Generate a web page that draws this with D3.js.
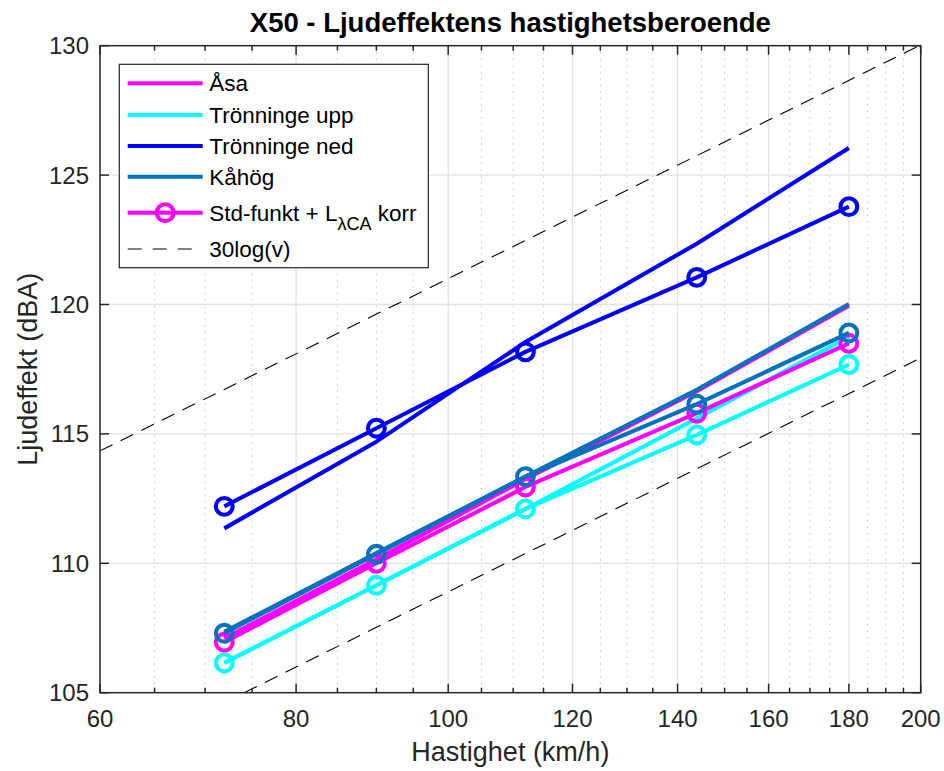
<!DOCTYPE html>
<html>
<head>
<meta charset="utf-8">
<script src="https://cdn.jsdelivr.net/npm/d3@7"></script>
<style>
  html, body { margin: 0; padding: 0; background: #fff; }
  svg { display: block; font-family: "Liberation Sans", Arial, Helvetica, sans-serif; }
</style>
</head>
<body>
<svg id="chart" width="944" height="771"></svg>
<script>
// Speeds (km/h) at which each site was evaluated
const speeds = [72, 90, 112, 144, 180];

// Measured sound power level per site (dBA)
const asaMeas   = [107.1, 110.15, 113.25, 116.65, 119.95];
const uppMeas   = [106.15, 109.15, 112.1, 115.6, 118.75];
const nedMeas   = [111.35, 114.7, 118.55, 122.35, 126.05];
const kahogMeas = [107.35, 110.4, 113.35, 116.7, 120.02];

// Standard function + L_λCA correction per site (dBA)
const asaStd   = [106.95, 110.0, 112.95, 115.8, 118.5];
const uppStd   = [106.15, 109.15, 112.1, 114.96, 117.68];
const nedStd   = [112.2, 115.22, 118.17, 121.05, 123.78];
const kahogStd = [107.3, 110.35, 113.35, 116.15, 118.9];

// 30log(v) reference lines: constant offsets (dB)
const refOffsets = [61, 48.9];

// Axis ticks
const xTicks = [60, 80, 100, 120, 140, 160, 180, 200];
const xMinorTicks = d3.range(65, 200, 5).filter(v => !xTicks.includes(v));
const yTicks = [105, 110, 115, 120, 125, 130];

const siteColors = { asa: "#ff00ff", upp: "#00ffff", ned: "#0000ff", kahog: "#0072bd" };

const svg = d3.select("#chart");
const box = { left: 100, right: 920.7, top: 45.7, bottom: 692.7 };

const x = d3.scaleLog().domain([60, 200]).range([box.left, box.right]);
const y = d3.scaleLinear().domain([105, 130]).range([box.bottom, box.top]);

const axisColor = "#262626";
const lw = 4.1;      // data line width
const mr = 8.4;      // marker radius

// Plot background
svg.append("rect").attr("x", box.left).attr("y", box.top)
  .attr("width", box.right - box.left).attr("height", box.bottom - box.top).attr("fill", "#fff");

// Minor x grid (dotted)
svg.append("g").selectAll("line").data(xMinorTicks).join("line")
  .attr("x1", d => x(d)).attr("x2", d => x(d))
  .attr("y1", box.top).attr("y2", box.bottom)
  .attr("stroke", "#c4c4c4").attr("stroke-width", 1)
  .attr("stroke-dasharray", "1.5,5");

// Major grid
svg.append("g").selectAll("line").data(xTicks.slice(1, -1)).join("line")
  .attr("x1", d => x(d)).attr("x2", d => x(d))
  .attr("y1", box.top).attr("y2", box.bottom)
  .attr("stroke", "#e2e2e2").attr("stroke-width", 1.3);
svg.append("g").selectAll("line").data(yTicks.slice(1, -1)).join("line")
  .attr("x1", box.left).attr("x2", box.right)
  .attr("y1", d => y(d)).attr("y2", d => y(d))
  .attr("stroke", "#e2e2e2").attr("stroke-width", 1.3);

const clipId = "plotClip";
svg.append("clipPath").attr("id", clipId).append("rect")
  .attr("x", box.left).attr("y", box.top)
  .attr("width", box.right - box.left).attr("height", box.bottom - box.top);
const plot = svg.append("g").attr("clip-path", `url(#${clipId})`);

const line = d3.line().x(d => x(d[0])).y(d => y(d[1]));
const pts = vals => speeds.map((s, i) => [s, vals[i]]);

// Measured curves
[[asaMeas, siteColors.asa], [uppMeas, siteColors.upp], [nedMeas, siteColors.ned], [kahogMeas, siteColors.kahog]]
  .forEach(([vals, c]) => {
    plot.append("path").attr("d", line(pts(vals)))
      .attr("fill", "none").attr("stroke", c).attr("stroke-width", lw)
      .attr("stroke-linejoin", "round");
  });

// Standard-function curves with circle markers
[[asaStd, siteColors.asa], [uppStd, siteColors.upp], [nedStd, siteColors.ned], [kahogStd, siteColors.kahog]]
  .forEach(([vals, c]) => {
    const g = svg.append("g");
    g.append("path").attr("d", line(pts(vals)))
      .attr("fill", "none").attr("stroke", c).attr("stroke-width", lw)
      .attr("stroke-linejoin", "round");
    g.selectAll("circle").data(pts(vals)).join("circle")
      .attr("cx", d => x(d[0])).attr("cy", d => y(d[1])).attr("r", mr)
      .attr("fill", "none").attr("stroke", c).attr("stroke-width", lw);
  });

// 30log(v) reference lines
refOffsets.forEach(c => {
  const ref = x.domain().map(v => [v, 30 * Math.log10(v) + c]);
  plot.append("path").attr("d", line(ref))
    .attr("fill", "none").attr("stroke", "#000").attr("stroke-width", 1.1)
    .attr("stroke-dasharray", "14,9");
});

// Axes box
svg.append("rect").attr("x", box.left).attr("y", box.top)
  .attr("width", box.right - box.left).attr("height", box.bottom - box.top)
  .attr("fill", "none").attr("stroke", axisColor).attr("stroke-width", 1.5);

// Tick marks (inward, mirrored on top/right)
const tickG = svg.append("g").attr("stroke", axisColor).attr("stroke-width", 1.5);
xTicks.forEach(v => {
  tickG.append("line").attr("x1", x(v)).attr("x2", x(v)).attr("y1", box.bottom).attr("y2", box.bottom - 9);
  tickG.append("line").attr("x1", x(v)).attr("x2", x(v)).attr("y1", box.top).attr("y2", box.top + 9);
});
xMinorTicks.forEach(v => {
  tickG.append("line").attr("x1", x(v)).attr("x2", x(v)).attr("y1", box.bottom).attr("y2", box.bottom - 5);
  tickG.append("line").attr("x1", x(v)).attr("x2", x(v)).attr("y1", box.top).attr("y2", box.top + 5);
});
yTicks.forEach(v => {
  tickG.append("line").attr("x1", box.left).attr("x2", box.left + 9).attr("y1", y(v)).attr("y2", y(v));
  tickG.append("line").attr("x1", box.right).attr("x2", box.right - 9).attr("y1", y(v)).attr("y2", y(v));
});

// Tick labels
svg.append("g").selectAll("text").data(xTicks).join("text")
  .attr("x", d => x(d)).attr("y", box.bottom + 34)
  .attr("text-anchor", "middle").attr("font-size", 24).attr("fill", axisColor)
  .text(d => d);
svg.append("g").selectAll("text").data(yTicks).join("text")
  .attr("x", box.left - 11).attr("y", d => y(d) + 8.5)
  .attr("text-anchor", "end").attr("font-size", 24).attr("fill", axisColor)
  .text(d => d);

// Axis labels and title
svg.append("text").attr("x", (box.left + box.right) / 2).attr("y", 761)
  .attr("text-anchor", "middle").attr("font-size", 27).attr("fill", axisColor)
  .text("Hastighet (km/h)");
svg.append("text")
  .attr("transform", `translate(37,${(box.top + box.bottom) / 2}) rotate(-90)`)
  .attr("text-anchor", "middle").attr("font-size", 27).attr("fill", axisColor)
  .text("Ljudeffekt (dBA)");
svg.append("text").attr("x", (box.left + box.right) / 2).attr("y", 32)
  .attr("text-anchor", "middle").attr("font-size", 27.5).attr("font-weight", "bold")
  .attr("fill", "#000")
  .text("X50 - Ljudeffektens hastighetsberoende");

// Legend
const legendItems = [
  { label: "Åsa", color: siteColors.asa, type: "line" },
  { label: "Trönninge upp", color: siteColors.upp, type: "line" },
  { label: "Trönninge ned", color: siteColors.ned, type: "line" },
  { label: "Kåhög", color: siteColors.kahog, type: "line" },
  { label: "Std-funkt + L", sub: "λCA", after: " korr", color: siteColors.asa, type: "marker" },
  { label: "30log(v)", color: "#000", type: "dash" }
];
const legendRows = [83.3, 115, 146, 176.7, 212.7, 249];
const lg = svg.append("g");
lg.append("rect").attr("x", 119.3).attr("y", 64.3).attr("width", 309).attr("height", 203.4)
  .attr("fill", "#fff").attr("stroke", axisColor).attr("stroke-width", 1.2);
legendItems.forEach((it, i) => {
  const cy = legendRows[i];
  const l = lg.append("line").attr("x1", 127.7).attr("x2", 202.7).attr("y1", cy).attr("y2", cy)
    .attr("stroke", it.color);
  if (it.type === "dash") {
    l.attr("stroke-width", 1.1).attr("stroke-dasharray", "14,11");
  } else {
    l.attr("stroke-width", lw);
  }
  if (it.type === "marker") {
    lg.append("circle").attr("cx", 165.2).attr("cy", cy).attr("r", mr)
      .attr("fill", "none").attr("stroke", it.color).attr("stroke-width", lw);
  }
  const t = lg.append("text").attr("x", 209.3).attr("y", cy + 8)
    .attr("font-size", 22.5).attr("fill", "#000");
  t.append("tspan").text(it.label);
  if (it.sub) {
    t.append("tspan").attr("font-size", 18).attr("dy", 9).text(it.sub);
    t.append("tspan").attr("dy", -9).text(it.after);
  }
});
</script>
</body>
</html>
